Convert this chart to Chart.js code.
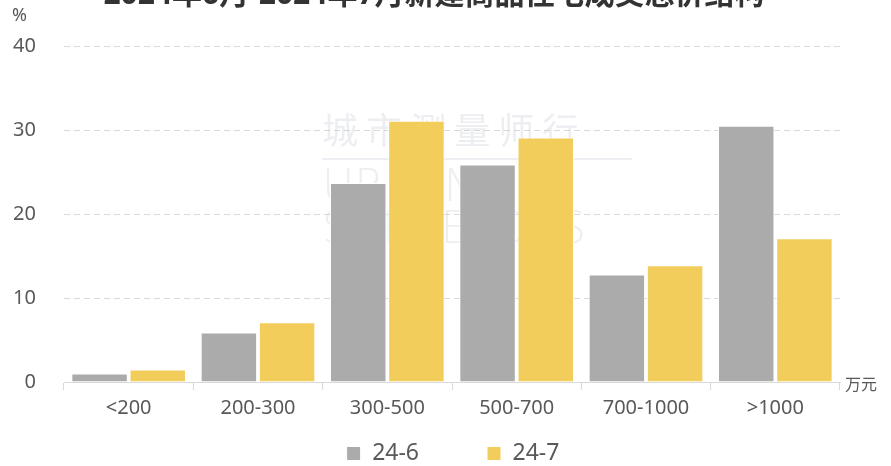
<!DOCTYPE html>
<html>
<head>
<meta charset="utf-8">
<script src="https://cdn.jsdelivr.net/npm/chart.js@4.4.0/dist/chart.umd.min.js"></script>
<style>
  html, body { margin: 0; padding: 0; background: #fff; }
  #wrap { width: 891px; height: 466px; position: relative; }
</style>
</head>
<body>
<div id="wrap"><canvas id="myChart" width="891" height="466"></canvas></div>
<script>
// data
var categories = ['<200', '200-300', '300-500', '500-700', '700-1000', '>1000'];
var june = [1.0, 5.9, 23.7, 25.9, 12.8, 30.5];
var july = [1.5, 7.1, 31.1, 29.1, 13.9, 17.1];
var seriesNames = ['24-6', '24-7'];
var yTicks = [0, 10, 20, 30, 40];
var title = '2024年6月-2024年7月新建商品住宅成交总价结构';

var FONT = '"Noto Sans", "Noto Sans CJK SC", sans-serif';

// title (cut off at the top), units and faint watermark
var extras = {
  id: 'extras',
  afterLayout: function(chart) {
    // legend sits low, with wide gaps between items
    var lg = chart.legend;
    lg.top = 454 - 12 - 68;
    lg.bottom = 466;
    lg.left += 33;
    lg.right += 33;
  },
  beforeDatasetsDraw: function(chart) {
    var ctx = chart.ctx;
    ctx.save();
    ctx.fillStyle = 'rgba(200,205,215,0.35)';
    ctx.textAlign = 'left';
    ctx.textBaseline = 'middle';
    ctx.font = '36px "Noto Sans CJK SC"';
    ctx.fillText('城 市 测 量 师 行', 322, 130);
    ctx.fillRect(322, 158, 310, 2);
    ctx.font = '300 44px "DejaVu Sans"';
    ctx.fillText('URBAN', 322, 190);
    ctx.fillText('SURVEYORS', 322, 232);
    ctx.restore();
  },
  afterDraw: function(chart) {
    var ctx = chart.ctx;
    var area = chart.chartArea;
    ctx.save();
    ctx.fillStyle = '#333';
    ctx.font = 'bold 30px ' + FONT;
    ctx.textAlign = 'center';
    ctx.textBaseline = 'alphabetic';
    ctx.fillText(title, 434, 4);
    ctx.fillStyle = '#595959';
    ctx.font = '18px ' + FONT;
    ctx.textAlign = 'left';
    ctx.textBaseline = 'middle';
    ctx.fillText('%', 12, 16);
    ctx.font = '16px ' + FONT;
    ctx.fillText('万元', area.right + 5, area.bottom + 3);
    ctx.restore();
  }
};

var config = {
  type: 'bar',
  data: {
    labels: categories,
    datasets: [{
        label: seriesNames[0],
        data: june,
        backgroundColor: '#ababab',
        borderColor: '#ffffff',
        borderWidth: 1,
        barPercentage: 0.97,
        categoryPercentage: 0.9
      }, {
        label: seriesNames[1],
        data: july,
        backgroundColor: '#f2cd5c',
        borderColor: '#ffffff',
        borderWidth: 1,
        barPercentage: 0.97,
        categoryPercentage: 0.9
      }
    ]
  },
  options: {
    responsive: false,
    animation: false,
    layout: { padding: { top: 46, right: 51, left: 0, bottom: 0 } },
    scales: {
      x: {
        grid: { drawOnChartArea: false, tickLength: 8, color: '#d9d9d9' },
        border: { color: '#d9d9d9' },
        ticks: { color: '#595959', font: { size: 20, family: FONT }, padding: 6 },
        afterFit: function(scale) { scale.height = 40; }
      },
      y: {
        min: 0,
        max: 40,
        afterBuildTicks: function(scale) {
          scale.ticks = yTicks.map(function(v) { return { value: v }; });
        },
        grid: { color: '#d9d9d9', drawTicks: false },
        border: { display: false, dash: [6, 4] },
        ticks: { color: '#595959', font: { size: 20, family: FONT }, padding: 28 },
        afterFit: function(scale) { scale.width = 64; }
      }
    },
    plugins: {
      legend: {
        position: 'bottom',
        maxHeight: 44,
        labels: {
          color: '#595959',
          font: { size: 23, family: FONT },
          boxWidth: 14,
          boxHeight: 14,
          padding: 68
        }
      },
      tooltip: { enabled: false }
    }
  },
  plugins: [extras]
};

var myChart = new Chart(document.getElementById('myChart'), config);
</script>
</body>
</html>
